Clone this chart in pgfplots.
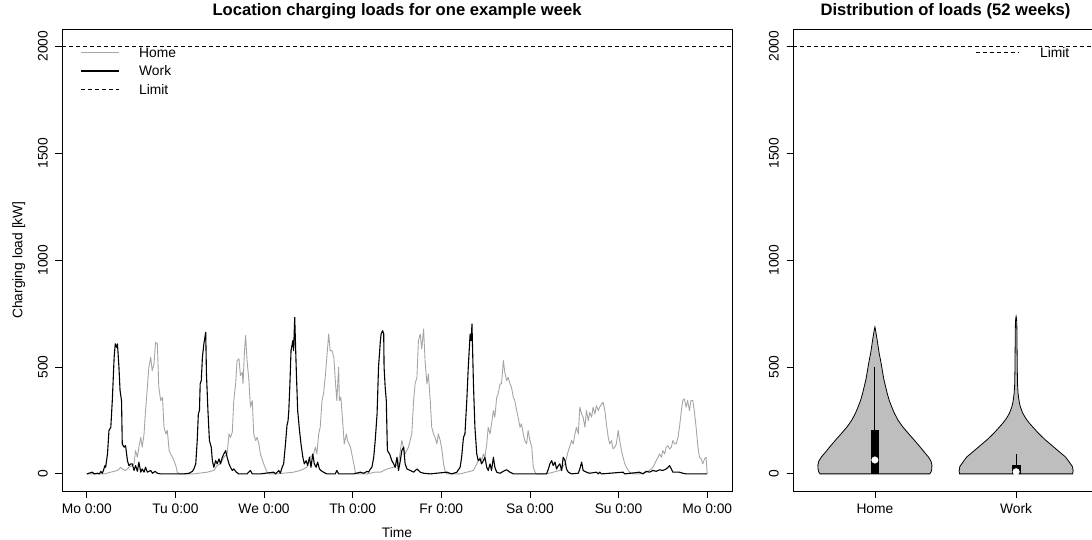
\documentclass[border=0pt]{standalone}
\usepackage{fontspec}
\setmainfont{Liberation Sans}
\usepackage{pgfplots}
\pgfplotsset{compat=1.18}
\definecolor{homegray}{RGB}{165,165,165}
\definecolor{violgray}{RGB}{190,190,190}
\newcommand\fs{\fontsize{13.8}{16}\selectfont}
\newcommand\fst{\fontsize{16.6}{19}\selectfont\bfseries}
\pgfplotsset{rstyle/.style={
  scale only axis, anchor=south west,
  ymin=-80, ymax=2080, ytick={0,500,1000,1500,2000},
  tick pos=left, tick align=outside, major tick length=6.5pt,
  tick style={black, line width=0.8pt},
  axis line style={line width=0.8pt},
  ticklabel style={font=\fs, inner sep=0pt},
  yticklabel style={rotate=90, anchor=south},
  xticklabel style={anchor=north, text height=10pt, text depth=3pt},
  yticklabel shift=7.5pt, xticklabel shift=5.5pt,
  /pgf/number format/assume math mode=true,
  /pgf/number format/1000 sep={},
  title style={font=\fst, at={(axis description cs:0.5,1.01515)}, anchor=base, inner sep=0pt},
  legend style={draw=none, fill=none, anchor=north west, inner sep=0pt, font=\fs, row sep=8.5pt,
    nodes={inner sep=0pt, text height=10pt, text depth=0pt}},
  legend cell align=left,
}}
\begin{document}
\begin{tikzpicture}
\useasboundingbox (0,0) rectangle (1092pt,539pt);
\begin{axis}[rstyle, at={(62pt,48pt)}, width=670pt, height=462pt,
  xmin=-6.72, xmax=174.72, xtick={0,24,...,168},
  xticklabels={Mo 0:00,Tu 0:00,We 0:00,Th 0:00,Fr 0:00,Sa 0:00,Su 0:00,Mo 0:00},
  title={Location charging loads for one example week},
  xlabel={Time}, ylabel={Charging load [kW]},
  xlabel style={font=\fs, at={(axis description cs:0.5,-0.09957)}, anchor=base, inner sep=0pt},
  ylabel style={font=\fs, at={(axis description cs:-0.05896,0.5)}, anchor=base, rotate=0, inner sep=0pt},
  legend style={at={(axis description cs:0.02687,0.96104)}, /tikz/every odd column/.style={column sep=19pt}},
  legend image code/.code={\draw[#1] (0pt,0pt) -- (38pt,0pt);},
]
\addlegendimage{homegray, line width=0.9pt}
\addlegendentry{Home}
\addlegendimage{black, line width=2pt}
\addlegendentry{Work}
\addlegendimage{black, line width=0.9pt, dash pattern=on 4pt off 3pt}
\addlegendentry{Limit}
% Home
\addplot[forget plot, homegray, line width=0.9pt, line join=round] coordinates {
(0,0) (4.7,0) (6.5,8) (8.3,16) (9.2,31) (9.6,23) (10.5,16) (11.4,31) (12.3,39) (12.8,47) (13.2,109) (13.7,78) (14.1,125) (14.6,171) (15.0,125) (15.5,187) (15.9,296) (16.4,405) (16.8,499) (17.3,545) (17.7,483) (18.2,514) (18.6,615) (19.1,608) (19.5,405) (20.0,343) (20.5,358) (20.9,218) (21.4,187) (21.8,203) (22.3,109) (22.7,93) (23.2,78) (23.6,62) (24.1,39) (24.5,8) (25.0,0)
(29.0,0) (32.6,8) (34.4,16) (35.3,39) (36.2,47) (37.1,78) (38.0,93) (38.5,187) (38.9,171) (39.4,195) (39.8,343) (40.3,421) (40.7,530) (41.2,538) (41.6,460) (42.1,475) (42.3,421) (42.7,576) (43.0,647) (43.4,530) (43.9,436) (44.3,312) (44.8,343) (45.2,187) (45.7,156) (46.1,171) (46.6,140) (47.0,93) (47.9,47) (48.8,8) (49.3,0)
(51.5,0) (56.0,8) (57.8,16) (58.7,23) (59.6,31) (60.5,78) (61.4,93) (61.9,125) (62.3,93) (62.8,187) (63.2,218) (63.7,343) (64.1,374) (64.6,460) (65.0,545) (65.5,654) (65.9,576) (66.4,576) (66.9,545) (67.3,436) (67.7,343) (68.2,499) (68.4,343) (68.8,358) (69.4,218) (69.7,140) (70.3,187) (70.6,156) (71.4,125) (72.3,47) (72.7,8) (73.2,0)
(76.0,0) (78.0,8) (79.5,8) (81.3,23) (83.1,31) (84.4,47) (85.3,156) (86.2,93) (87.1,125) (88.0,187) (88.5,343) (88.9,421) (89.4,452) (89.8,623) (90.3,654) (90.7,584) (91.2,678) (91.6,530) (92.1,421) (92.5,467) (93.0,343) (93.4,218) (93.9,187) (94.3,171) (94.8,140) (95.2,187) (95.7,156) (96.2,109) (96.6,47) (97.1,8) (97.5,0)
(101.1,0) (102.9,8) (104.7,16) (105.6,47) (106.5,78) (106.9,62) (107.4,93) (107.8,78) (108.3,140) (108.7,218) (109.2,187) (109.6,234) (110.1,296) (110.5,265) (111.0,358) (111.4,374) (111.9,421) (112.3,421) (112.8,530) (113.2,475) (113.7,436) (114.1,452) (114.6,421) (115.0,405) (115.5,358) (115.9,343) (116.4,296) (116.8,265) (117.3,218) (117.7,234) (118.2,187) (118.6,156) (119.1,140) (119.5,203) (120.0,156) (120.5,125) (120.9,31) (121.4,8) (121.8,0)
(124.5,0) (126.3,8) (128.1,16) (129.5,47) (130.4,109) (131.3,156) (131.7,140) (132.2,187) (132.6,218) (133.1,187) (133.5,312) (134.0,280) (134.4,265) (134.9,218) (135.3,296) (135.8,249) (136.2,288) (136.7,265) (137.1,312) (137.6,280) (138.0,319) (138.5,296) (138.9,312) (139.4,327) (139.8,335) (140.3,296) (140.7,234) (141.2,171) (141.6,140) (142.1,156) (142.5,117) (143.0,125) (143.4,140) (143.9,203) (144.3,156) (144.8,109) (145.2,78) (145.7,47) (146.1,31) (147.0,8) (147.9,0)
(149.7,0) (151.5,8) (152.9,23) (153.3,31) (154.2,62) (154.7,78) (155.1,93) (155.6,78) (156.0,109) (156.5,93) (156.9,125) (157.4,132) (157.8,117) (158.3,125) (158.7,156) (159.2,140) (159.6,140) (160.1,171) (160.5,218) (160.9,280) (161.4,343) (161.8,351) (162.3,312) (162.7,343) (163.2,296) (163.6,343) (164.1,343) (164.5,296) (165.0,218) (165.5,125) (165.9,78) (166.4,70) (166.8,47) (167.3,70) (167.7,78) (168.0,0)
};
% Work
\addplot[forget plot, black, line width=1.1pt, line join=round] coordinates {
(0,0) (1.5,8) (2.0,0) (2.9,3) (3.4,0) (3.8,12) (4.2,3) (4.5,16) (4.9,39) (5.1,31) (5.6,93) (6.0,203) (6.5,218) (6.9,343) (7.4,545) (7.7,608) (7.9,600) (8.1,592) (8.3,608) (8.7,499) (9.0,390) (9.4,343) (9.6,140) (10.1,125) (10.5,132) (11.0,62) (11.4,39) (11.9,47) (12.3,47) (12.8,16) (13.2,39) (13.7,12) (14.1,55) (14.6,8) (15.0,23) (15.5,8) (15.9,31) (16.4,8) (17.3,16) (17.8,3) (18.5,12) (19.1,3) (20.0,0)
(26.3,0) (27.7,3) (28.6,12) (29.0,23) (29.5,47) (29.9,156) (30.2,280) (30.5,296) (30.7,421) (31.0,436) (31.3,545) (31.7,608) (32.2,662) (32.4,467) (32.8,296) (33.2,156) (33.7,125) (34.0,62) (34.4,31) (34.9,62) (35.3,47) (35.8,70) (36.2,47) (36.7,78) (37.1,93) (37.6,109) (38.0,78) (38.5,47) (38.9,31) (39.4,16) (39.8,23) (40.5,8) (41.2,0) (43.4,0) (44.3,16) (44.8,0)
(47.0,0) (50.6,8) (51.1,0) (52.0,16) (52.4,3) (52.9,31) (53.3,47) (53.8,140) (54.2,226) (54.5,249) (54.7,296) (55.0,421) (55.3,576) (55.8,623) (56.0,576) (56.3,732) (56.7,499) (57.1,296) (57.6,203) (58.0,140) (58.5,78) (58.9,47) (59.4,62) (59.8,39) (60.3,78) (60.7,31) (61.2,93) (61.6,47) (62.1,31) (62.5,55) (63.0,23) (63.4,16) (64.1,8) (65.0,0) (67.3,0) (67.7,16) (68.2,0)
(72.3,0) (74.1,8) (75.0,3) (75.9,12) (76.3,8) (76.8,23) (77.2,31) (77.7,78) (78.1,156) (78.6,280) (79.0,499) (79.5,623) (79.7,654) (80.1,670) (80.4,654) (80.5,499) (80.8,405) (81.1,343) (81.4,109) (82.0,93) (82.6,62) (83.1,47) (83.5,31) (84.0,78) (84.4,16) (84.9,62) (85.3,109) (85.8,125) (86.2,47) (86.7,23) (87.6,16) (88.5,8) (89.4,23) (90.3,8) (91.2,3) (93.0,0)
(97.5,8) (98.8,0) (100.2,8) (101.1,31) (101.5,78) (102.0,171) (102.4,187) (102.9,343) (103.3,499) (103.8,654) (104.1,623) (104.3,701) (104.7,421) (105.1,218) (105.6,93) (106.0,62) (106.5,70) (106.9,47) (107.4,62) (107.8,78) (108.3,31) (108.7,16) (109.2,47) (109.6,16) (110.1,78) (110.5,31) (111.0,8) (111.9,3) (113.2,16) (113.7,19) (114.6,8) (115.5,0)
(124.5,0) (125.0,23) (125.4,47) (125.9,62) (126.3,39) (126.8,55) (127.2,23) (127.7,39) (128.1,47) (128.6,16) (129.0,78) (129.5,62) (129.9,23) (130.4,8) (131.3,0) (133.1,3) (133.5,23) (134.0,55) (134.4,16) (135.3,8) (136.2,3) (138.0,8) (138.5,0) (138.9,8) (139.4,0) (145.2,8) (145.7,0)
(149.7,8) (150.6,0) (151.5,12) (152.4,8) (153.3,16) (154.2,12) (155.1,19) (156.0,16) (156.9,23) (157.4,31) (157.8,39) (158.3,23) (158.7,8) (160.5,8) (161.4,3) (162.3,0) (168.0,0)
};
\addplot[forget plot, black, line width=0.9pt, dash pattern=on 4pt off 3pt] coordinates {(-6.72,2000) (174.72,2000)};
\end{axis}
\begin{axis}[rstyle, at={(793pt,48pt)}, width=305pt, height=462pt,
  xmin=0.42, xmax=2.58, xtick={1,2}, xticklabels={Home,Work},
  title={Distribution of loads (52 weeks)},
  legend style={at={(axis description cs:0.59672,0.96104)}, /tikz/every odd column/.style={column sep=21pt}},
  legend image code/.code={\draw[#1] (0pt,0pt) -- (43pt,0pt);},
]
\addlegendimage{black, line width=0.9pt, dash pattern=on 4pt off 3pt}
\addlegendentry{Limit}
\addplot[forget plot, fill=violgray, draw=black, line width=0.8pt] coordinates {
(1.388,0) (1.397,8) (1.402,20) (1.404,40) (1.397,60) (1.378,80) (1.352,100) (1.319,127) (1.276,160) (1.236,190) (1.197,220) (1.163,252) (1.137,285) (1.118,315) (1.101,345) (1.087,377) (1.075,410) (1.064,440) (1.056,470) (1.048,502) (1.039,535) (1.030,565) (1.023,595) (1.016,627) (1.009,655) (1.004,675) (1.000,687)
(0.996,675) (0.991,655) (0.984,627) (0.977,595) (0.970,565) (0.961,535) (0.952,502) (0.944,470) (0.936,440) (0.925,410) (0.913,377) (0.899,345) (0.882,315) (0.863,285) (0.837,252) (0.803,220) (0.764,190) (0.724,160) (0.681,127) (0.648,100) (0.622,80) (0.603,60) (0.596,40) (0.598,20) (0.603,8) (0.612,0)
} -- cycle;
\addplot[forget plot, fill=violgray, draw=black, line width=0.8pt] coordinates {
(2.400,0) (2.404,15) (2.398,35) (2.383,49) (2.366,65) (2.348,80) (2.312,100) (2.264,127) (2.205,160) (2.158,190) (2.124,215) (2.094,237) (2.068,260) (2.047,284) (2.032,310) (2.024,330) (2.018,355) (2.014,377) (2.010,420) (2.008,502) (2.007,580) (2.006,658) (2.005,700) (2.003,725) (2.000,736)
(1.997,725) (1.995,700) (1.994,658) (1.993,580) (1.992,502) (1.990,420) (1.986,377) (1.982,355) (1.976,330) (1.968,310) (1.953,284) (1.932,260) (1.906,237) (1.876,215) (1.842,190) (1.795,160) (1.736,127) (1.688,100) (1.652,80) (1.634,65) (1.617,49) (1.602,35) (1.596,15) (1.600,0)
} -- cycle;
\addplot[forget plot, black, line width=0.9pt] coordinates {(1,205) (1,500)};
\addplot[forget plot, black, line width=0.9pt] coordinates {(2,38) (2,93)};
\addplot[forget plot, fill=black, draw=black, line width=0.8pt] coordinates {(0.972,0) (1.028,0) (1.028,205) (0.972,205)} -- cycle;
\addplot[forget plot, fill=black, draw=black, line width=0.8pt] coordinates {(1.972,0) (2.028,0) (2.028,38) (1.972,38)} -- cycle;
\addplot[forget plot, only marks, mark=*, mark size=3.3pt, mark options={fill=white, draw=white}] coordinates {(1,65) (2,10)};
\addplot[forget plot, black, line width=0.9pt, dash pattern=on 4pt off 3pt] coordinates {(0.42,2000) (2.58,2000)};
\end{axis}
\end{tikzpicture}
\end{document}
